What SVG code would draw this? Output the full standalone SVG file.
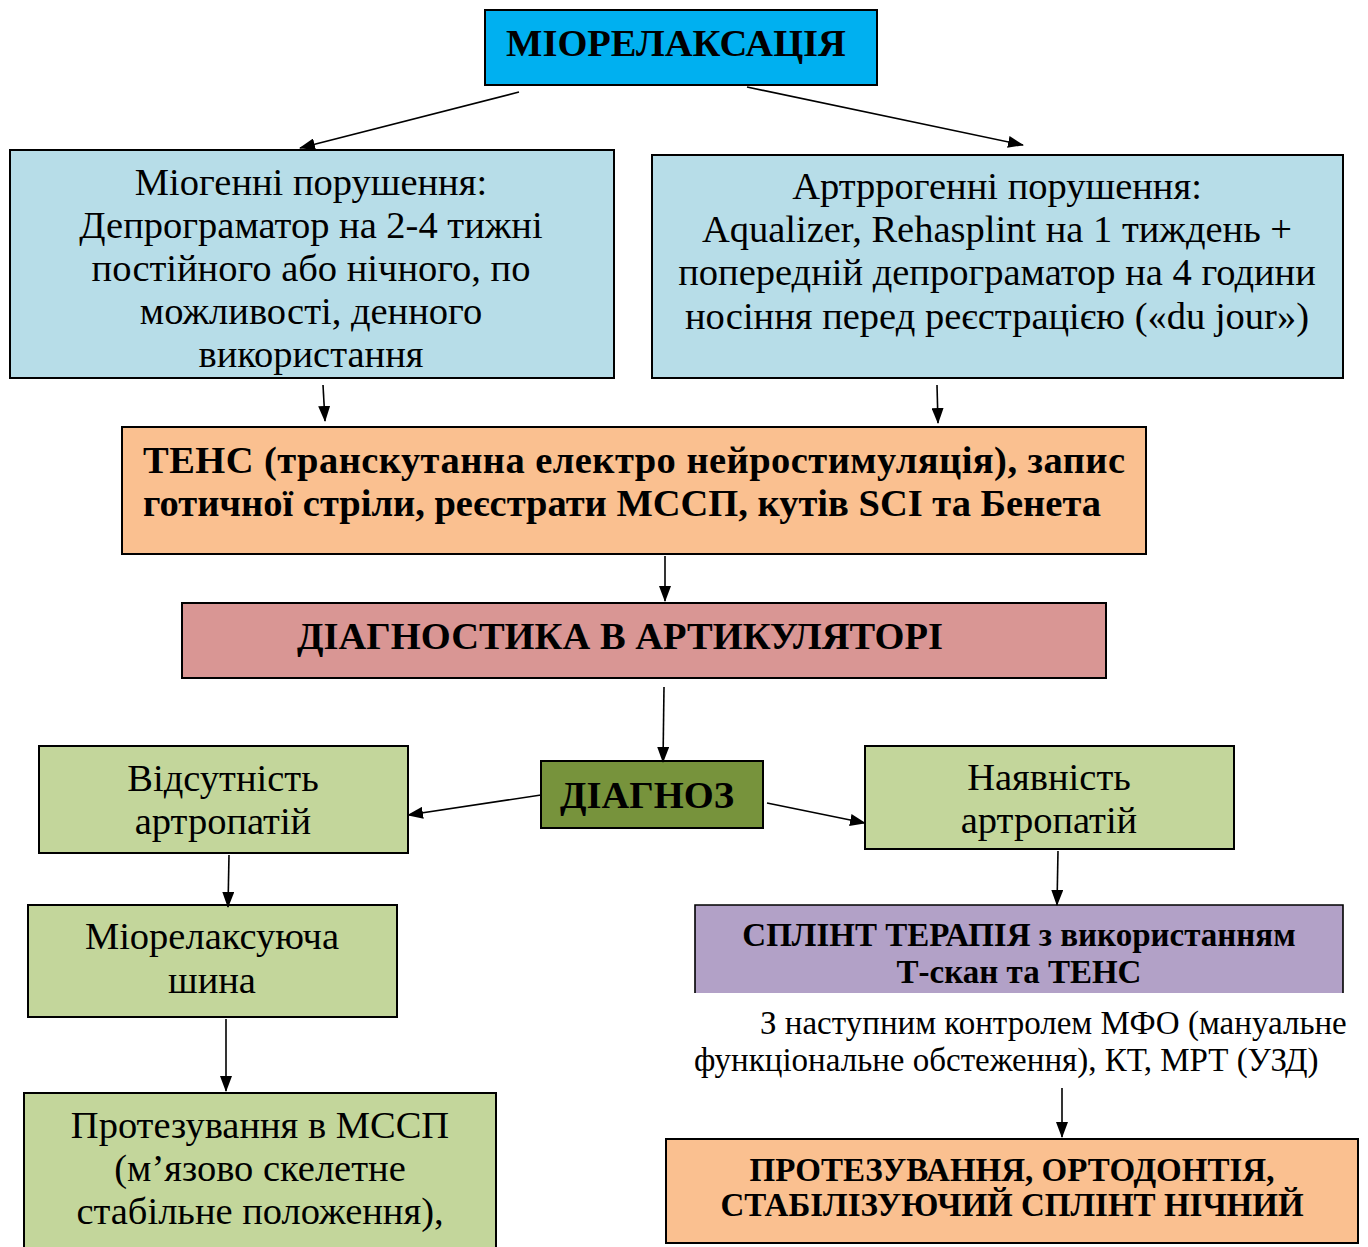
<svg xmlns="http://www.w3.org/2000/svg" width="1368" height="1247" viewBox="0 0 1368 1247">
<defs>
<style>
.box{stroke:#000;stroke-width:2}
.t{font-family:"Liberation Serif","Times New Roman",serif;fill:#000;font-size:38.5px}
.s{font-size:33px}
.b{font-weight:bold}
.c{text-anchor:middle}
.edge{stroke:#000;stroke-width:1.6;fill:none}
</style>
<marker id="ah" markerWidth="16" markerHeight="12" refX="15" refY="6" orient="auto" markerUnits="userSpaceOnUse">
<path d="M0,0 L16,6 L0,12 Z" fill="#000"/>
</marker>
</defs>
<rect width="1368" height="1247" fill="#fff"/>

<g id="n-mio">
<rect class="box" x="485" y="10" width="392" height="75" fill="#00B0F0"/>
<text class="t b c" x="676" y="56" font-size="37">МІОРЕЛАКСАЦІЯ</text>
</g>

<g id="n-miogen">
<rect class="box" x="10" y="150" width="604" height="228" fill="#B7DDE8"/>
<text class="t c" x="311" y="195">Міогенні порушення:</text>
<text class="t c" x="311" y="238">Депрограматор на 2-4 тижні</text>
<text class="t c" x="311" y="281">постійного або нічного, по</text>
<text class="t c" x="311" y="324">можливості, денного</text>
<text class="t c" x="311" y="367">використання</text>
</g>

<g id="n-artro">
<rect class="box" x="652" y="155" width="691" height="223" fill="#B7DDE8"/>
<text class="t c" x="997" y="199">Артррогенні порушення:</text>
<text class="t c" x="997" y="242">Aqualizer, Rehasplint на 1 тиждень +</text>
<text class="t c" x="997" y="285">попередній депрограматор на 4 години</text>
<text class="t c" x="997" y="329">носіння перед реєстрацією («du jour»)</text>
</g>

<g id="n-tens">
<rect class="box" x="122" y="427" width="1024" height="127" fill="#FAC090"/>
<text class="t b" x="143" y="473" textLength="982" lengthAdjust="spacing">ТЕНС (транскутанна електро нейростимуляція), запис</text>
<text class="t b" x="143" y="516">готичної стріли, реєстрати МССП, кутів SCI та Бенета</text>
</g>

<g id="n-diagart">
<rect class="box" x="182" y="603" width="924" height="75" fill="#D99694"/>
<text class="t b" x="297" y="649">ДІАГНОСТИКА В АРТИКУЛЯТОРІ</text>
</g>

<g id="n-diagnoz">
<rect class="box" x="541" y="761" width="222" height="67" fill="#77933C"/>
<text class="t b c" x="647" y="808">ДІАГНОЗ</text>
</g>

<g id="n-vids">
<rect class="box" x="39" y="746" width="369" height="107" fill="#C3D69B"/>
<text class="t c" x="223" y="791">Відсутність</text>
<text class="t c" x="223" y="834">артропатій</text>
</g>

<g id="n-nayav">
<rect class="box" x="865" y="746" width="369" height="103" fill="#C3D69B"/>
<text class="t c" x="1049" y="790">Наявність</text>
<text class="t c" x="1049" y="833">артропатій</text>
</g>

<g id="n-shyna">
<rect class="box" x="28" y="905" width="369" height="112" fill="#C3D69B"/>
<text class="t c" x="212" y="949">Міорелаксуюча</text>
<text class="t c" x="212" y="993">шина</text>
</g>

<g id="n-protez">
<rect class="box" x="24" y="1093" width="472" height="170" fill="#C3D69B"/>
<text class="t c" x="260" y="1138">Протезування в МССП</text>
<text class="t c" x="260" y="1181">(м’язово скелетне</text>
<text class="t c" x="260" y="1224">стабільне положення),</text>
</g>

<g id="n-splint">
<rect x="695" y="905" width="648" height="88" fill="#B2A1C7"/>
<path class="edge" d="M695,993 V905 H1343 V993" stroke-width="2"/>
<text class="t s b c" x="1019" y="946">СПЛІНТ ТЕРАПІЯ з використанням</text>
<text class="t s b c" x="1019" y="983">Т-скан та ТЕНС</text>
</g>

<g id="n-note">
<text class="t s" x="760" y="1034">З наступним контролем МФО (мануальне</text>
<text class="t s" x="694" y="1071">функціональне обстеження), КТ, МРТ (УЗД)</text>
</g>

<g id="n-final">
<rect class="box" x="666" y="1139" width="692" height="104" fill="#FAC090"/>
<text class="t s b c" x="1012" y="1181">ПРОТЕЗУВАННЯ, ОРТОДОНТІЯ,</text>
<text class="t s b c" x="1012" y="1216">СТАБІЛІЗУЮЧИЙ СПЛІНТ НІЧНИЙ</text>
</g>

<g id="connectors">
<line class="edge" x1="519" y1="92" x2="300" y2="148" marker-end="url(#ah)"/>
<line class="edge" x1="747" y1="87" x2="1023" y2="145" marker-end="url(#ah)"/>
<line class="edge" x1="323" y1="385" x2="325" y2="421" marker-end="url(#ah)"/>
<line class="edge" x1="937" y1="385" x2="938" y2="423" marker-end="url(#ah)"/>
<line class="edge" x1="665" y1="556" x2="665" y2="601" marker-end="url(#ah)"/>
<line class="edge" x1="664" y1="687" x2="663" y2="762" marker-end="url(#ah)"/>
<line class="edge" x1="541" y1="795" x2="408" y2="815" marker-end="url(#ah)"/>
<line class="edge" x1="767" y1="803" x2="865" y2="823" marker-end="url(#ah)"/>
<line class="edge" x1="229" y1="855" x2="228" y2="907" marker-end="url(#ah)"/>
<line class="edge" x1="226" y1="1019" x2="226" y2="1091" marker-end="url(#ah)"/>
<line class="edge" x1="1058" y1="851" x2="1057" y2="905" marker-end="url(#ah)"/>
<line class="edge" x1="1062" y1="1088" x2="1062" y2="1137" marker-end="url(#ah)"/>
</g>
</svg>
